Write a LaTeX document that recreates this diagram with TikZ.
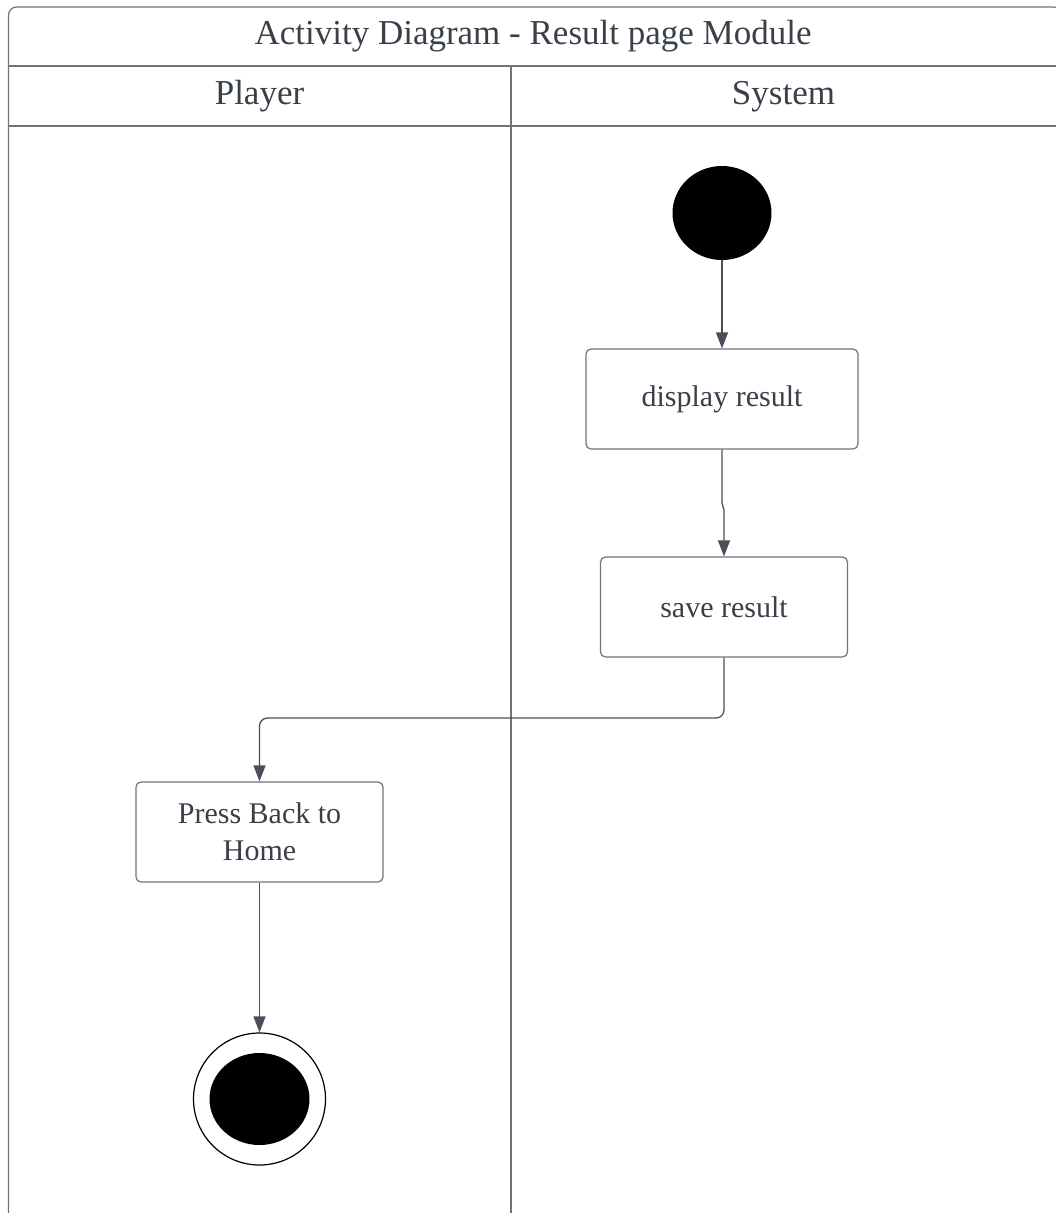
\documentclass[tikz,border=0pt]{standalone}
\usepackage{fontspec}
\setmainfont{Liberation Serif}
\usetikzlibrary{shapes.geometric,arrows.meta}

\definecolor{ink}{HTML}{3A4049}
\definecolor{frameline}{HTML}{6F737A}
\definecolor{edgeline}{HTML}{4A5059}

\tikzset{
  lane/.style={draw=frameline, line width=1.2pt},
  headtext/.style={text=ink, font=\fontsize{35}{42}\selectfont, anchor=base, inner sep=0pt},
  act/.style={draw=frameline, rounded corners=5pt, fill=white, line width=1.2pt,
    text=ink, font=\fontsize{30}{37}\selectfont, align=center, inner sep=0pt},
  flow/.style={draw=edgeline, line width=1.3pt, -{Triangle[length=16pt,width=12pt]}},
}

\begin{document}
\begin{tikzpicture}[x=1pt,y=-1pt]
\useasboundingbox (0,0) rectangle (1056,1213);
\clip (0,0) rectangle (1056,1213);

% swimlane frame (runs past the right and bottom edges)
\draw[lane, rounded corners=8pt] (8.5,7) rectangle (1062,1240);
\draw[lane] (8.5,66) -- (1062,66);
\draw[lane] (8.5,126) -- (1062,126);
\draw[lane] (511,66) -- (511,1240);

% headings
\node[headtext] (title) at (533,44) {Activity Diagram - Result page Module};
\node[headtext] (player) at (259.5,104) {Player};
\node[headtext] (system) at (783.5,104) {System};

% activity nodes
\node[ellipse, fill=black, minimum width=99pt, minimum height=94pt, inner sep=0pt] (init) at (722,213) {};
\node[act, minimum width=272pt, minimum height=100pt] (disp) at (722,399) {display result};
\node[act, minimum width=247pt, minimum height=100pt] (save) at (724,607) {save result};
\node[act, minimum width=247pt, minimum height=100pt] (press) at (259.5,832) {Press Back to\\Home};
\node[circle, draw=black, line width=1.2pt, minimum size=132pt, inner sep=0pt] (final) at (259.5,1099) {};
\node[ellipse, fill=black, minimum width=100pt, minimum height=92pt, inner sep=0pt] (finaldot) at (final.center) {};

% control flow
\draw[flow] (init) -- (disp);
\draw[flow] (disp.south) -- (722,503) -- (724,510) -- (save.north);
\draw[flow, rounded corners=8pt] (save.south) -- (724,718) -| (press.north);
\draw[flow] (press.south) -- (final.north);
\end{tikzpicture}
\end{document}
